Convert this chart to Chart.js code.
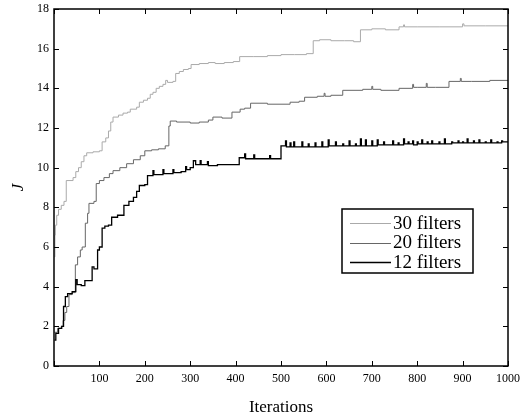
<!DOCTYPE html>
<html>
<head>
<meta charset="utf-8">
<script src="https://cdn.jsdelivr.net/npm/chart.js@4.4.1/dist/chart.umd.min.js"></script>
<style>
  html, body { margin: 0; padding: 0; background: #fff; }
  #wrap { width: 523px; height: 418px; }
</style>
</head>
<body>
<div id="wrap"><canvas id="jchart" width="523" height="418"></canvas></div>
<script>
// ---------------- data ----------------
const seriesLabels = ['30 filters', '20 filters', '12 filters'];
const xTicks = [0, 100, 200, 300, 400, 500, 600, 700, 800, 900, 1000];
const yTicks = [0, 2, 4, 6, 8, 10, 12, 14, 16, 18];

// 30 filters (light grey)
const iters30 = [1, 2, 3, 6, 10, 16, 22, 27, 42, 48, 54, 60, 66, 72, 86, 100, 106, 114, 120, 125,
  130, 142, 152, 162, 168, 182, 188, 197, 206, 212, 218, 225, 232, 240, 246, 250, 262, 268, 276, 285,
  296, 302, 320, 340, 355, 375, 395, 409, 440, 470, 500, 530, 556, 571, 585, 610, 640, 660, 675, 700,
  730, 760, 770, 772, 800, 850, 900, 903, 950, 1000];
const j30 = [5.5, 6.6, 7.1, 7.6, 7.9, 8.1, 8.3, 9.35, 9.5, 9.8, 10.0, 10.3, 10.6, 10.75, 10.8, 10.85, 11.3, 11.5, 11.85, 12.3,
  12.55, 12.65, 12.75, 12.8, 12.95, 13.05, 13.3, 13.4, 13.5, 13.7, 13.8, 14.0, 14.1, 14.2, 14.4, 14.3, 14.35, 14.75, 14.85, 14.95,
  15.0, 15.2, 15.25, 15.3, 15.25, 15.3, 15.35, 15.6, 15.6, 15.65, 15.7, 15.7, 15.75, 16.4, 16.45, 16.4, 16.4, 16.35, 16.95, 17.0,
  16.95, 17.1, 17.2, 17.1, 17.1, 17.1, 17.25, 17.15, 17.15, 17.15];

// 20 filters (mid grey)
const iters20 = [1, 8, 16, 20, 24, 28, 33, 40, 47, 52, 58, 62, 69, 74, 77, 88, 93, 100, 110, 122,
  130, 145, 160, 175, 190, 200, 215, 230, 245, 253, 256, 270, 300, 320, 340, 350, 370, 392, 410, 420,
  433, 470, 500, 520, 540, 552, 580, 595, 597, 610, 636, 680, 700, 702, 720, 760, 790, 792, 800, 820,
  822, 840, 870, 895, 897, 920, 960, 1000];
const j20 = [1.7, 1.9, 2.0, 2.3, 2.7, 3.0, 3.6, 3.7, 5.1, 5.5, 5.85, 6.0, 7.2, 7.7, 8.2, 8.3, 9.2, 9.35, 9.5, 9.7,
  9.85, 10.0, 10.2, 10.4, 10.6, 10.85, 10.9, 10.95, 11.1, 12.1, 12.35, 12.3, 12.25, 12.3, 12.4, 12.55, 12.5, 12.8, 12.95, 13.0,
  13.25, 13.2, 13.2, 13.3, 13.35, 13.55, 13.6, 13.75, 13.6, 13.65, 13.9, 13.95, 14.1, 13.95, 13.9, 14.0, 14.2, 14.05, 14.05, 14.25,
  14.05, 14.05, 14.35, 14.5, 14.35, 14.35, 14.4, 14.4];

// 12 filters (black)
const iters12 = [1, 4, 10, 17, 21, 25, 30, 40, 48, 51, 60, 68, 84, 88, 96, 100, 106, 112, 120, 127,
  140, 154, 165, 175, 182, 188, 200, 206, 218, 220, 240, 242, 262, 264, 280, 290, 292, 300, 307, 312,
  322, 324, 338, 340, 360, 404, 408, 420, 422, 440, 442, 475, 477, 498, 500, 510, 512, 520, 522, 528,
  530, 546, 548, 560, 562, 575, 577, 590, 592, 604, 606, 620, 622, 636, 638, 650, 652, 664, 666, 675,
  677, 686, 688, 700, 702, 712, 714, 726, 728, 746, 748, 758, 760, 770, 772, 780, 782, 790, 792, 800,
  802, 810, 812, 822, 824, 832, 834, 848, 850, 860, 862, 876, 878, 890, 892, 900, 902, 910, 912, 924,
  926, 936, 938, 950, 952, 962, 964, 976, 978, 986, 988, 1000];
const j12 = [1.3, 1.65, 1.9, 2.0, 3.0, 3.5, 3.65, 3.75, 4.35, 4.1, 4.05, 4.3, 5.0, 4.9, 5.85, 6.0, 6.95, 7.05, 7.1, 7.5,
  7.6, 8.1, 8.3, 8.5, 8.8, 9.1, 9.15, 9.6, 9.85, 9.65, 9.9, 9.7, 9.9, 9.75, 9.8, 10.05, 9.9, 10.0, 10.35, 10.15,
  10.35, 10.15, 10.3, 10.1, 10.15, 10.15, 10.5, 10.7, 10.45, 10.65, 10.45, 10.6, 10.45, 10.45, 11.1, 11.35, 11.05, 11.25, 11.05, 11.3,
  11.05, 11.3, 11.05, 11.2, 11.05, 11.25, 11.05, 11.3, 11.05, 11.4, 11.1, 11.3, 11.1, 11.2, 11.1, 11.35, 11.1, 11.2, 11.1, 11.45,
  11.1, 11.4, 11.1, 11.35, 11.1, 11.4, 11.15, 11.3, 11.15, 11.35, 11.15, 11.25, 11.15, 11.45, 11.2, 11.3, 11.2, 11.35, 11.15, 11.3,
  11.2, 11.4, 11.2, 11.3, 11.2, 11.35, 11.2, 11.3, 11.2, 11.45, 11.2, 11.3, 11.25, 11.35, 11.25, 11.3, 11.25, 11.45, 11.25, 11.35,
  11.25, 11.4, 11.25, 11.3, 11.25, 11.4, 11.25, 11.3, 11.25, 11.35, 11.3, 11.3];

const lineColors = ['#aaaaaa', '#666666', '#000000'];
const lineWidths = [1, 1, 1.3];

function pts(xs, ys) {
  return xs.map((x, i) => ({ x: x, y: ys[i] }));
}

const SERIF = "'Liberation Serif', 'Times New Roman', serif";

// frame + inward tick marks on all four sides
const framePlugin = {
  id: 'frame',
  afterDraw(chart) {
    const ctx = chart.ctx;
    const a = chart.chartArea;
    const xs = chart.scales.x, ys = chart.scales.y;
    const tl = 5;
    ctx.save();
    ctx.strokeStyle = '#000';
    ctx.lineWidth = 1;
    ctx.beginPath();
    xTicks.forEach(v => {
      const px = Math.round(xs.getPixelForValue(v)) + 0.5;
      ctx.moveTo(px, a.bottom); ctx.lineTo(px, a.bottom - tl);
      ctx.moveTo(px, a.top); ctx.lineTo(px, a.top + tl);
    });
    yTicks.forEach(v => {
      const py = Math.round(ys.getPixelForValue(v)) + 0.5;
      ctx.moveTo(a.left, py); ctx.lineTo(a.left + tl, py);
      ctx.moveTo(a.right, py); ctx.lineTo(a.right - tl, py);
    });
    ctx.stroke();
    ctx.lineWidth = 1.5;
    ctx.strokeRect(a.left, a.top, a.right - a.left, a.bottom - a.top);
    ctx.restore();
  }
};

// boxed legend inside the plot, lower right
const legendPlugin = {
  id: 'boxLegend',
  afterDraw(chart) {
    const ctx = chart.ctx;
    const bx = 342, by = 209, bw = 131, bh = 64;
    ctx.save();
    ctx.fillStyle = '#fff';
    ctx.fillRect(bx, by, bw, bh);
    ctx.strokeStyle = '#000';
    ctx.lineWidth = 1.5;
    ctx.strokeRect(bx, by, bw, bh);
    ctx.font = '19px ' + SERIF;
    ctx.textBaseline = 'middle';
    ctx.textAlign = 'left';
    seriesLabels.forEach((lab, i) => {
      const y = by + 14 + i * 19.5;
      ctx.strokeStyle = lineColors[i];
      ctx.lineWidth = lineWidths[i];
      ctx.beginPath();
      ctx.moveTo(bx + 8, Math.round(y) + 0.5);
      ctx.lineTo(bx + 49, Math.round(y) + 0.5);
      ctx.stroke();
      ctx.fillStyle = '#000';
      ctx.fillText(lab, bx + 51, y + 1);
    });
    ctx.restore();
  }
};

const ctx = document.getElementById('jchart').getContext('2d');
const chart = new Chart(ctx, {
  type: 'line',
  data: {
    datasets: [
      { label: seriesLabels[0], data: pts(iters30, j30), borderColor: lineColors[0], borderWidth: lineWidths[0], order: 2 },
      { label: seriesLabels[1], data: pts(iters20, j20), borderColor: lineColors[1], borderWidth: lineWidths[1], order: 1 },
      { label: seriesLabels[2], data: pts(iters12, j12), borderColor: lineColors[2], borderWidth: lineWidths[2], order: 0 }
    ].map(d => Object.assign(d, { stepped: true, pointRadius: 0, fill: false }))
  },
  options: {
    responsive: false,
    animation: false,
    layout: { padding: { top: 9, right: 15, left: 0, bottom: 0 } },
    plugins: { legend: { display: false }, tooltip: { enabled: false } },
    scales: {
      x: {
        type: 'linear', min: 0, max: 1000,
        // fixed axis box, no extra room for edge labels
        afterFit(s) { s.height = 52; s.paddingLeft = 0; s.paddingRight = 0; },
        afterBuildTicks(s) { s.ticks = xTicks.map(v => ({ value: v })); },
        grid: { display: false, drawTicks: false },
        border: { display: false },
        ticks: {
          padding: 6, color: '#000', maxRotation: 0, autoSkip: false,
          font: { family: SERIF, size: 12 },
          callback: v => (v === 0 ? '' : v)
        },
        title: { display: true, text: 'Iterations', color: '#000', font: { family: SERIF, size: 17 }, padding: { top: 0, bottom: 0 } }
      },
      y: {
        min: 0, max: 18,
        afterFit(s) { s.width = 54; s.paddingTop = 0; s.paddingBottom = 0; },
        afterBuildTicks(s) { s.ticks = yTicks.map(v => ({ value: v })); },
        grid: { display: false, drawTicks: false },
        border: { display: false },
        ticks: { padding: 5, color: '#000', autoSkip: false, font: { family: SERIF, size: 12 } },
        title: { display: true, text: 'J', color: '#000', font: { family: SERIF, size: 17, style: 'italic' }, padding: { top: 8, bottom: 0 } }
      }
    }
  },
  plugins: [framePlugin, legendPlugin]
});
</script>
</body>
</html>
